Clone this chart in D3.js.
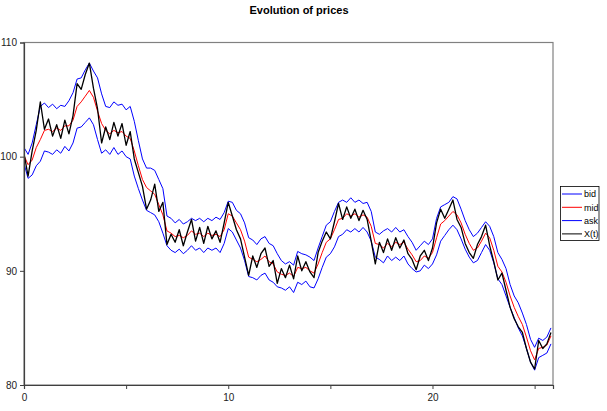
<!DOCTYPE html>
<html><head><meta charset="utf-8">
<script src="https://cdn.jsdelivr.net/npm/d3@7"></script>
<style>body{margin:0;background:#fff}svg{display:block;font-family:"Liberation Sans",Arial,sans-serif}</style>
</head><body><svg id="c" width="607" height="411"></svg>
<script>
const tStep = 0.2;
const xTicks = [0, 5, 10, 15, 20, 25];
const xTickLabels = ["0", "", "10", "", "20", ""];
const yTicks = [80, 90, 100, 110];
const seriesNames = ["bid", "mid", "ask", "X(t)"];
const seriesColors = ["#0000ff", "#ff0000", "#0000ff", "#000000"];

const xt = [100.3,98.3,100.5,102.3,104.8,102.4,103.3,101.8,102.8,101.6,103.2,102.0,103.6,106.4,105.9,107.2,108.2,106.0,104.2,101.2,
102.6,101.5,103.0,101.8,102.9,101.0,102.2,99.8,98.6,97.4,95.4,96.2,97.6,95.2,96.0,92.3,93.2,92.5,93.6,92.2,
93.4,94.5,92.6,93.8,92.4,93.9,92.8,93.5,92.5,94.2,96.0,94.8,93.6,92.8,91.2,89.6,91.3,90.3,91.5,92.0,
90.4,90.9,88.9,90.2,89.4,90.5,89.3,91.3,90.0,90.8,89.9,89.4,91.6,92.6,93.4,92.8,94.3,95.9,94.5,95.6,
94.6,95.4,94.4,95.3,94.5,92.6,90.6,92.5,91.6,92.8,91.8,92.9,92.0,92.7,91.5,91.0,90.1,91.3,91.8,90.9,
92.0,94.2,95.4,94.6,95.4,96.2,94.5,93.8,92.4,91.6,91.1,92.3,93.0,94.0,92.2,90.8,89.2,89.8,88.3,86.8,
85.8,85.1,84.6,83.2,82.0,81.4,83.9,83.2,83.6,84.6];

const mid = [100.1,99.3,99.7,100.8,101.5,102.3,102.4,102.2,102.5,102.3,102.7,102.7,103.2,104.4,104.8,105.3,105.8,105.2,104.0,102.9,
102.3,102.0,102.3,102.1,102.2,101.8,101.6,100.5,99.2,98.0,97.3,97.0,96.7,95.8,94.9,93.5,93.3,93.0,93.1,92.9,
93.1,93.5,93.2,93.3,93.0,93.3,93.1,93.2,93.0,93.6,95.0,94.8,94.2,93.6,92.6,91.2,91.0,90.8,91.0,91.3,
90.8,90.6,89.9,89.7,89.6,89.8,89.5,90.3,90.2,90.3,90.0,89.8,90.6,91.6,92.5,92.8,93.6,94.5,94.6,95.0,
94.8,95.0,94.7,94.9,94.7,93.9,92.4,92.3,92.0,92.4,92.1,92.5,92.3,92.5,91.9,91.4,90.8,90.9,91.3,91.1,
91.6,92.9,94.1,94.4,94.8,95.2,94.9,94.2,93.2,92.4,91.8,92.0,92.6,93.3,92.9,91.8,90.4,89.9,89.0,87.8,
86.8,86.0,85.3,84.2,83.0,82.2,83.2,83.3,83.5,84.3];

const ask = [100.8,100.2,101.2,102.8,104.4,104.7,104.3,104.6,104.2,104.5,104.4,104.9,105.6,106.8,106.9,107.6,108.2,107.5,106.9,105.5,
104.4,104.3,104.8,104.5,104.6,104.1,104.4,103.1,101.4,99.8,99.0,99.0,98.8,98.0,97.2,94.8,94.6,94.2,94.5,94.1,
94.3,94.6,94.4,94.6,94.3,94.6,94.4,94.7,94.5,95.1,96.1,96.0,95.3,95.0,94.2,92.9,92.7,92.3,92.8,93.0,
92.4,92.2,91.5,90.9,90.6,90.8,90.5,91.7,91.5,91.4,91.2,90.9,92.0,93.0,94.0,94.3,95.2,96.0,96.2,96.0,
96.4,96.0,96.2,95.9,96.0,95.2,93.4,93.2,93.5,93.7,93.4,93.8,93.4,93.6,93.0,92.5,91.8,92.2,92.6,92.3,
92.8,94.6,95.6,95.8,96.0,96.5,96.3,95.4,94.4,93.6,93.0,93.3,93.8,94.3,93.9,93.0,91.6,91.0,90.2,88.8,
87.8,87.2,86.3,85.3,84.0,83.3,84.1,83.9,84.2,85.0];

const bid = [99.4,98.1,98.4,99.2,99.6,100.5,100.4,100.2,100.6,100.3,100.9,100.5,101.2,102.5,102.6,103.0,103.4,102.8,101.5,100.3,
100.6,100.2,100.8,100.2,100.5,100.0,99.8,98.3,97.2,96.2,95.3,95.1,94.9,94.3,93.3,92.2,91.8,91.6,91.9,91.5,
91.8,92.2,91.8,92.0,91.6,92.0,91.8,92.0,91.6,92.4,93.7,93.4,92.7,92.0,90.9,89.5,89.4,89.2,89.6,89.8,
89.2,89.0,88.6,88.5,88.3,88.6,88.1,89.0,88.8,89.1,88.6,88.5,89.3,90.3,91.2,91.5,92.1,93.0,93.2,93.6,
93.4,93.7,93.4,93.8,93.4,92.6,91.2,91.0,90.7,91.3,90.9,91.2,90.9,91.3,90.6,90.2,89.9,90.0,90.5,90.2,
90.6,91.4,92.6,93.1,93.6,94.0,93.6,92.8,91.9,91.2,90.7,90.9,91.6,92.3,91.8,90.7,89.3,88.8,87.8,86.8,
85.9,85.0,84.3,83.2,82.0,81.3,82.4,82.6,82.8,83.6];

const series = [bid, mid, ask, xt];

const svg = d3.select("#c");
const L = 24, R = 553, T = 42.5, B = 385;
const x = d3.scaleLinear().domain([0, 25.9]).range([L, R]);
const y = d3.scaleLinear().domain([80, 110]).range([B, T]);

svg.append("text").attr("x", 299).attr("y", 14).attr("text-anchor", "middle")
  .attr("font-size", 11).attr("font-weight", "bold").text("Evolution of prices");

svg.append("rect").attr("x", L).attr("y", T).attr("width", R - L).attr("height", B - T)
  .attr("fill", "none").attr("stroke", "#808080").attr("stroke-width", 1.2);

svg.append("clipPath").attr("id", "clp").append("rect")
  .attr("x", L).attr("y", T).attr("width", R - L).attr("height", B - T);

const line = d3.line().x((d, i) => x(i * tStep)).y(d => y(d));
const g = svg.append("g").attr("clip-path", "url(#clp)");
series.forEach((s, k) => {
  g.append("path").datum(s).attr("d", line).attr("fill", "none")
    .attr("stroke", seriesColors[k]).attr("stroke-width", k === 3 ? 1.3 : 1)
    .attr("stroke-linejoin", "round");
});

const yAxis = svg.append("g").attr("transform", `translate(${L},0)`)
  .call(d3.axisLeft(y).tickValues(yTicks).tickSize(4).tickPadding(3).tickFormat(d3.format("d")));
const xAxis = svg.append("g").attr("transform", `translate(0,${B})`)
  .call(d3.axisBottom(x).tickValues(xTicks).tickSize(4).tickPadding(5).tickFormat((d, i) => xTickLabels[i]));
[yAxis, xAxis].forEach(a => {
  a.select(".domain").attr("stroke", "#404040").attr("stroke-width", 1.2);
  a.selectAll(".tick line").attr("stroke", "#404040");
  a.selectAll("text").attr("font-size", 10).attr("fill", "#222").attr("font-family", "Liberation Sans, Arial, sans-serif");
});

const lg = svg.append("g");
lg.append("rect").attr("x", 560.5).attr("y", 186.5).attr("width", 38.5).attr("height", 54)
  .attr("fill", "#fff").attr("stroke", "#000").attr("stroke-width", 0.8);
seriesNames.forEach((n, k) => {
  const yy = 194 + k * 13.3;
  lg.append("line").attr("x1", 562).attr("x2", 582).attr("y1", yy).attr("y2", yy)
    .attr("stroke", seriesColors[k]).attr("stroke-width", 1);
  lg.append("text").attr("x", 584).attr("y", yy + 3.3).attr("font-size", 9).text(n);
});
</script></body></html>
